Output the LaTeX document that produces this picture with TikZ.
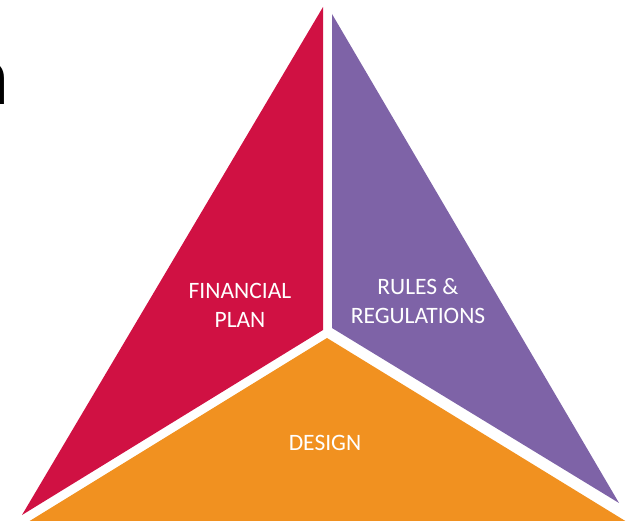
\documentclass[tikz,border=0pt]{standalone}
\usepackage{fontspec}
\setmainfont{Carlito}
\definecolor{planred}{RGB}{208,17,67}
\definecolor{rulepurple}{RGB}{126,99,167}
\definecolor{designorange}{RGB}{241,145,32}

\begin{document}
\begin{tikzpicture}[x=1pt,y=-1pt]
            \tikzstyle{every node}+=[inner sep=0pt]
            \tikzstyle{segtext}=[text=white,align=center,font=\fontsize{23.5}{29}\selectfont]
            \useasboundingbox (0,0) rectangle (627,521);
            % cut-off letter at the left border
            \node [black,anchor=base east,font=\fontsize{86}{86}\selectfont] (cutn) at (10,105) {n};
            % the three parts of the triangle
            \fill [planred] (323,7) -- (323,330) -- (22,515) -- cycle;
            \fill [rulepurple] (332,14) -- (619,503) -- (332,328) -- cycle;
            \fill [designorange] (327,338) -- (627,522) -- (28,522) -- cycle;
            \node [segtext] (fin) at (240,305) {FINANCIAL\\PLAN};
            \node [segtext] (rules) at (418,301) {RULES \&\\REGULATIONS};
            \node [segtext,anchor=base] (design) at (325,450) {DESIGN};
        \end{tikzpicture}
\end{document}
